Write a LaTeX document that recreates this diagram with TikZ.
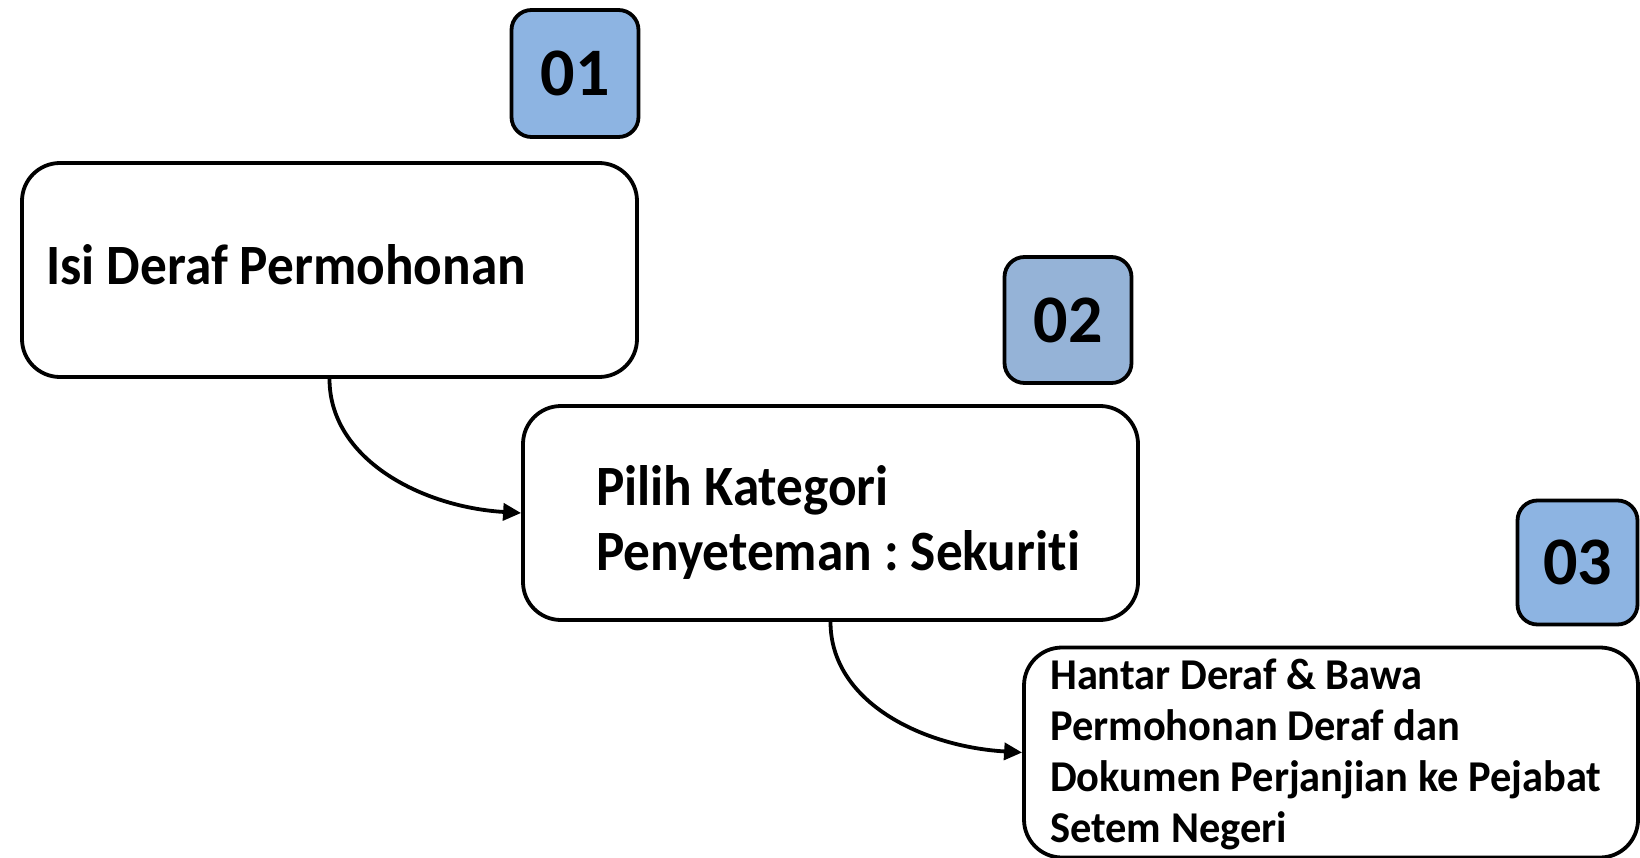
\documentclass[tikz,border=0pt]{standalone}
\usepackage{fontspec}
\setmainfont{Carlito}[Ligatures=NoCommon]
\newfontfamily\fA{Carlito}[Ligatures=NoCommon, FakeStretch=0.935]
\newfontfamily\fB{Carlito}[Ligatures=NoCommon, FakeStretch=0.965]
\usetikzlibrary{arrows.meta}
\definecolor{lblA}{HTML}{8DB4E2}
\definecolor{lblB}{HTML}{95B3D7}
\frenchspacing
\tikzset{
  bigbox/.style={draw=black, line width=3.8pt, rounded corners=38pt, fill=white, inner sep=0pt},
  numbox/.style={draw=black, line width=3.8pt, rounded corners=20pt, inner sep=0pt,
    minimum width=124pt, minimum height=124pt, font=\fontsize{68pt}{70pt}\selectfont\bfseries},
  txt/.style={anchor=base west, inner sep=0pt, align=left},
  bigtxt/.style={txt, font=\fA\fontsize{57pt}{65pt}\selectfont\bfseries},
  smalltxt/.style={txt, font=\fB\fontsize{44pt}{51pt}\selectfont\bfseries},
  arr/.style={line width=3.8pt, -{Triangle[length=18pt,width=17pt]}}
}
\begin{document}
\begin{tikzpicture}[x=1pt,y=-1pt]
\useasboundingbox (0,0) rectangle (1640,858);
% main boxes
\node[bigbox, minimum width=615pt, minimum height=214pt] (b1) at (329.5,270) {};
\node[bigbox, minimum width=615pt, minimum height=214pt] (b2) at (830.5,513) {};
\node[bigbox, minimum width=614pt, minimum height=210pt] (b3) at (1331,752.5) {};
% number boxes
\node[numbox, fill=lblA, minimum width=127pt, minimum height=127pt] (n1) at (575,73.5) {01};
\node[numbox, fill=lblB, minimum width=127pt, minimum height=126pt] (n2) at (1068,320) {02};
\node[numbox, fill=lblA, minimum width=120pt, minimum height=124pt] (n3) at (1577.5,562.5) {03};
% texts
\node[bigtxt] (t1) at (46,285) {Isi Deraf Permohonan};
\node[bigtxt] (t2a) at (596,505) {Pilih Kategori};
\node[bigtxt] (t2b) at (596,570) {Penyeteman : Sekuriti};
\node[smalltxt] (t3a) at (1050,689) {Hantar Deraf \& Bawa};
\node[smalltxt] (t3b) at (1050,740) {Permohonan Deraf dan};
\node[smalltxt] (t3c) at (1050,791) {Dokumen Perjanjian ke Pejabat};
\node[smalltxt] (t3d) at (1050,842) {Setem Negeri};
% connectors
\draw[arr] (b1.south) .. controls +(0,80) and +(-100,-6) .. (b2.west);
\draw[arr] (b2.south) .. controls +(0,80) and +(-100,-6) .. (b3.west);
\end{tikzpicture}
\end{document}
